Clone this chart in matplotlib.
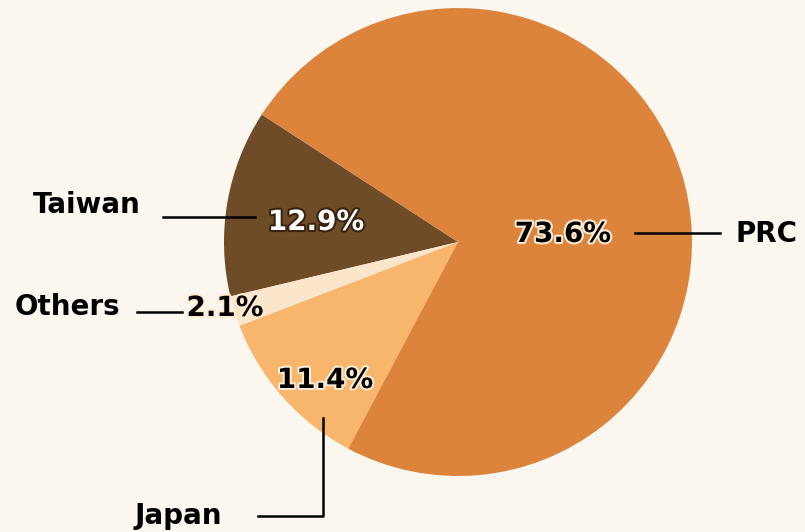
import matplotlib
matplotlib.use("Agg")
import matplotlib.pyplot as plt
import matplotlib.patheffects as pe

# ---- data ----
categories = ["Taiwan", "Others", "Japan", "PRC"]
shares = [12.9, 2.1, 11.4, 73.6]
pct_labels = ["12.9%", "2.1%", "11.4%", "73.6%"]
colors = ["#6F4C28", "#FBE6CC", "#F8B56C", "#DC843C"]

W, H = 805, 532
fig = plt.figure(figsize=(W / 100, H / 100), dpi=100)
bg = "#FBF6EE"
fig.patch.set_facecolor(bg)
ax = fig.add_axes([0, 0, 1, 1])
ax.set_facecolor(bg)

def Y(py):
    return H - py

ax.pie(shares, colors=colors, startangle=147, counterclock=True,
       center=(458, Y(242)), radius=234,
       wedgeprops=dict(linewidth=0))
ax.set_xlim(0, W)
ax.set_ylim(0, H)
ax.set_aspect("equal")
ax.axis("off")

fs = 20
dark_halo = [pe.withStroke(linewidth=3, foreground="#3A2410")]
light_halo = [pe.withStroke(linewidth=3, foreground="#FDEBD2")]

# category names
ax.text(87, Y(205), categories[0], fontsize=fs, fontweight="bold", ha="center", va="center", color="black")
ax.text(67, Y(307), categories[1], fontsize=fs, fontweight="bold", ha="center", va="center", color="black")
ax.text(178, Y(516), categories[2], fontsize=fs, fontweight="bold", ha="center", va="center", color="black")
ax.text(766, Y(234), categories[3], fontsize=fs, fontweight="bold", ha="center", va="center", color="black")

# percentages
ax.text(316, Y(222), pct_labels[0], fontsize=fs, fontweight="bold", ha="center", va="center",
        color="white", path_effects=dark_halo)
ax.text(225, Y(308), pct_labels[1], fontsize=fs, fontweight="bold", ha="center", va="center",
        color="black", path_effects=light_halo)
ax.text(325, Y(380), pct_labels[2], fontsize=fs, fontweight="bold", ha="center", va="center",
        color="black", path_effects=light_halo)
ax.text(563, Y(234), pct_labels[3], fontsize=fs, fontweight="bold", ha="center", va="center",
        color="black", path_effects=light_halo)

# leader lines
lw = 1.8
ax.plot([163, 255], [Y(217), Y(217)], color="black", lw=lw)
ax.plot([137, 182], [Y(312), Y(312)], color="black", lw=lw)
ax.plot([323, 323, 258], [Y(418), Y(516), Y(516)], color="black", lw=lw)
ax.plot([635, 720], [Y(233), Y(233)], color="black", lw=lw)

fig.savefig("out.png", dpi=100, facecolor=bg)
